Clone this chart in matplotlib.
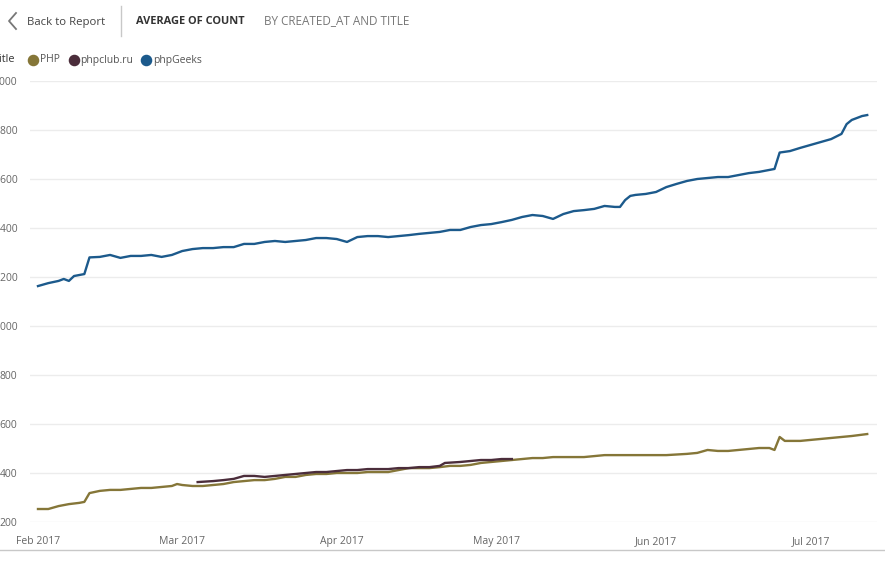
import numpy as np
import pandas as pd
import matplotlib
matplotlib.use('Agg')
import matplotlib.pyplot as plt
from matplotlib.lines import Line2D

plt.rcParams['font.family'] = ['Open Sans', 'DejaVu Sans']

start = pd.Timestamp('2017-02-01')

# days after 1 Feb 2017 and average count
geeks_days = [0, 2, 4, 5, 6, 7, 8, 9, 10, 12, 14, 16, 18, 20, 22, 24, 26, 28, 30, 32,
              34, 36, 38, 40, 42, 44, 46, 48, 50, 52, 54, 56, 58, 60, 62, 64, 66, 68,
              70, 72, 74, 76, 78, 80, 82, 84, 86, 88, 90, 92, 94, 96, 98, 100, 102,
              104, 106, 108, 110, 112, 113, 114, 115, 116, 118, 120, 122, 124, 126,
              128, 130, 132, 134, 136, 138, 140, 142, 143, 144, 146, 148, 150, 152,
              154, 156, 157, 158, 159, 160, 161]
geeks_vals = [1163, 1175, 1184, 1192, 1184, 1204, 1208, 1212, 1280, 1282, 1290, 1278,
              1286, 1286, 1290, 1282, 1290, 1306, 1314, 1318, 1318, 1322, 1322, 1335,
              1335, 1343, 1347, 1343, 1347, 1351, 1359, 1359, 1355, 1343, 1363, 1367,
              1367, 1363, 1367, 1371, 1376, 1380, 1384, 1392, 1392, 1404, 1412, 1416,
              1424, 1433, 1445, 1453, 1449, 1437, 1457, 1469, 1473, 1478, 1490, 1486,
              1486, 1514, 1531, 1535, 1539, 1547, 1567, 1580, 1592, 1600, 1604, 1608,
              1608, 1616, 1624, 1629, 1637, 1641, 1708, 1714, 1727, 1739, 1751, 1763,
              1784, 1824, 1841, 1849, 1857, 1861]

php_days = [0, 2, 4, 6, 8, 9, 10, 12, 14, 16, 18, 20, 22, 24, 26, 27, 28, 30, 32, 34,
            36, 38, 40, 42, 44, 46, 48, 50, 52, 54, 56, 58, 60, 62, 64, 66, 68, 70, 72,
            74, 76, 78, 80, 82, 84, 86, 88, 90, 92, 94, 96, 98, 100, 104, 106, 108, 110,
            114, 118, 122, 126, 128, 130, 132, 134, 136, 138, 140, 142, 143, 144, 145,
            146, 148, 150, 152, 154, 156, 158, 161]
php_vals = [253, 253, 265, 273, 278, 282, 318, 327, 331, 331, 335, 339, 339, 343, 347,
            355, 351, 347, 347, 351, 355, 363, 367, 371, 371, 376, 384, 384, 392, 396,
            396, 400, 400, 400, 404, 404, 404, 412, 420, 420, 420, 424, 429, 429, 433,
            441, 445, 449, 453, 457, 461, 461, 465, 465, 465, 469, 473, 473, 473, 473,
            478, 482, 494, 490, 490, 494, 498, 502, 502, 494, 547, 531, 531, 531, 535,
            539, 543, 547, 551, 559]

club_days = [31, 34, 36, 38, 40, 42, 44, 46, 48, 50, 52, 54, 56, 58, 60, 62, 64, 66, 68,
             70, 72, 74, 76, 78, 79, 82, 84, 86, 88, 90, 92]
club_vals = [363, 367, 371, 376, 388, 388, 384, 388, 392, 396, 400, 404, 404, 408, 412,
             412, 416, 416, 416, 420, 420, 424, 424, 429, 441, 445, 449, 453, 453, 457,
             457]

series = [
    ('PHP', php_days, php_vals, '#857638'),
    ('phpclub.ru', club_days, club_vals, '#4b2d3b'),
    ('phpGeeks', geeks_days, geeks_vals, '#1c5a8c'),
]

months = pd.date_range('2017-02-01', '2017-07-01', freq='MS')
month_labels = [m.strftime('%b %Y') for m in months]
y_ticks = list(range(200, 2001, 200))

W, H = 885, 581
fig = plt.figure(figsize=(W / 100, H / 100), dpi=100)
ax = fig.add_axes([30 / W, 1 - 522 / H, 847 / W, 441 / H])

for name, days, vals, color in series:
    dates = start + pd.to_timedelta(days, unit='D')
    ax.plot(dates, vals, color=color, lw=1.7, solid_joinstyle='round')

ax.set_ylim(200, 2000)
ax.set_xlim(start - pd.Timedelta(days=1.55), start + pd.Timedelta(days=162.9))
ax.set_yticks(y_ticks)
ax.set_yticklabels([str(v) for v in y_ticks])
ax.set_xticks(months)
ax.set_xticklabels(month_labels)
ax.tick_params(length=0, colors='#666666', labelsize=7.5)
ax.tick_params(axis='x', pad=10)
ax.tick_params(axis='y', pad=9)
ax.grid(axis='y', color='#ececec', lw=1)
ax.set_axisbelow(True)
for s in ax.spines.values():
    s.set_visible(False)

# header
fig.add_artist(Line2D([16 / W, 9 / W, 16 / W], [1 - 13 / H, 1 - 21 / H, 1 - 29 / H],
                      color='#777777', lw=1.3))
fig.text(27 / W, 1 - 22 / H, 'Back to Report', fontsize=8.2, color='#444444', va='center')
fig.add_artist(Line2D([121 / W, 121 / W], [1 - 6 / H, 1 - 36 / H], color='#c8c8c8', lw=1))
fig.text(136 / W, 1 - 21 / H, 'AVERAGE OF COUNT', fontsize=7.9, color='#333333',
         va='center', fontweight='bold')
fig.text(264 / W, 1 - 21 / H, 'BY CREATED_AT AND TITLE', fontsize=8.5, color='#777777',
         va='center')

# legend
fig.text(15 / W, 1 - 60 / H, 'Title', fontsize=7.8, color='#333333', va='center',
         ha='right')
leg_pos = [(33, 40), (74, 80), (146, 153)]
for (mx, tx), (name, _, _, color) in zip(leg_pos, series):
    fig.add_artist(Line2D([mx / W], [1 - 60 / H], marker='o', ms=7.3, color=color, lw=0))
    fig.text(tx / W, 1 - 60 / H, name, fontsize=7.5, color='#555555', va='center')

fig.add_artist(Line2D([0, 1], [1 - 550 / H, 1 - 550 / H], color='#c8c8c8', lw=1))

fig.savefig('out.png', dpi=100)
